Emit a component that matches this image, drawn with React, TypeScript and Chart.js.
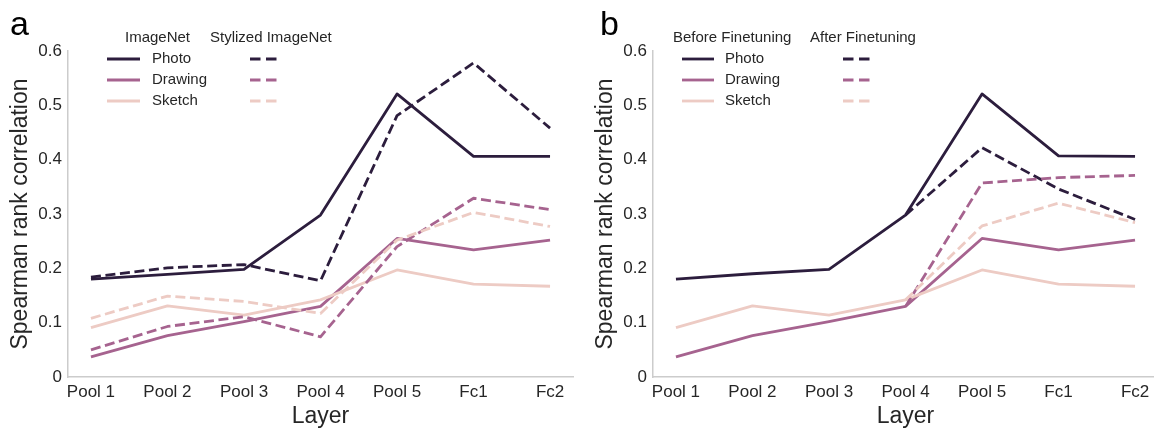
import React, { useEffect, useRef } from "react";
import { Chart, registerables } from "chart.js";

Chart.register(...registerables);

const LAYERS = ["Pool 1", "Pool 2", "Pool 3", "Pool 4", "Pool 5", "Fc1", "Fc2"];
const Y_TICKS = [0, 0.1, 0.2, 0.3, 0.4, 0.5, 0.6];

// Panel a: ImageNet (solid) vs Stylized ImageNet (dashed)
const A_PHOTO_IN = [0.180, 0.189, 0.198, 0.298, 0.521, 0.406, 0.406];
const A_DRAWING_IN = [0.037, 0.076, 0.102, 0.130, 0.255, 0.234, 0.252];
const A_SKETCH_IN = [0.091, 0.131, 0.114, 0.142, 0.197, 0.171, 0.167];
const A_PHOTO_SIN = [0.184, 0.201, 0.207, 0.177, 0.481, 0.578, 0.458];
const A_DRAWING_SIN = [0.050, 0.093, 0.111, 0.074, 0.240, 0.329, 0.308];
const A_SKETCH_SIN = [0.108, 0.149, 0.139, 0.117, 0.252, 0.303, 0.277];

// Panel b: Before (solid) vs After Finetuning (dashed)
const B_PHOTO_BEFORE = [0.180, 0.190, 0.198, 0.298, 0.521, 0.407, 0.406];
const B_DRAWING_BEFORE = [0.037, 0.076, 0.102, 0.130, 0.255, 0.234, 0.252];
const B_SKETCH_BEFORE = [0.091, 0.131, 0.114, 0.142, 0.197, 0.171, 0.167];
const B_PHOTO_AFTER = [null, null, null, 0.298, 0.422, 0.346, 0.290];
const B_DRAWING_AFTER = [null, null, null, 0.130, 0.357, 0.367, 0.371];
const B_SKETCH_AFTER = [null, null, null, 0.142, 0.278, 0.320, 0.284];

const SERIES_NAMES = ["Photo", "Drawing", "Sketch"];
const COLORS = ["#2c1d3d", "#a6638f", "#edcbc4"];

const FONT = "'Liberation Sans', Arial, sans-serif";
const TEXT = "#262626";
const DASH = [10, 4.6];
const LW = 2.8;

type PanelProps = {
  letter: string;
  headers: [string, string];
  solid: (number | null)[][];
  dashed: (number | null)[][];
  left: number;
  leg: { h1: number; h2: number; s0: number; s1: number; tx: number; d0: number; d1: number };
  letterX: number;
};

function Panel({ letter, headers, solid, dashed, left, leg, letterX }: PanelProps) {
  const ref = useRef<HTMLCanvasElement | null>(null);
  useEffect(() => {
    const canvas = ref.current!;
    const mk = (arr: (number | null)[]) => arr.map((v, i) => ({ x: i, y: v }));
    const datasets: any[] = [];
    for (let k = 0; k < 3; k++) {
      datasets.push({
        data: mk(solid[k]),
        borderColor: COLORS[k],
        borderWidth: LW,
        pointRadius: 0,
        borderJoinStyle: "round",
        fill: false,
        spanGaps: false,
        order: 2 - k + 3,
      });
    }
    for (let k = 0; k < 3; k++) {
      datasets.push({
        data: mk(dashed[k]),
        borderColor: COLORS[k],
        borderWidth: LW,
        borderDash: DASH,
        pointRadius: 0,
        borderJoinStyle: "round",
        fill: false,
        spanGaps: false,
        order: 2 - k,
      });
    }
    const legendPlugin = {
      id: "customLegend",
      afterDraw(chart: any) {
        const ctx = chart.ctx as CanvasRenderingContext2D;
        ctx.save();
        ctx.fillStyle = "#000";
        ctx.font = `34px ${FONT}`;
        ctx.textBaseline = "alphabetic";
        ctx.textAlign = "left";
        ctx.fillText(letter, letterX, 35);
        ctx.fillStyle = TEXT;
        ctx.font = `15px ${FONT}`;
        ctx.textBaseline = "middle";
        ctx.fillText(headers[0], leg.h1, 38);
        ctx.fillText(headers[1], leg.h2, 38);
        const rows = [59, 80, 101];
        for (let k = 0; k < 3; k++) {
          const y = rows[k];
          ctx.strokeStyle = COLORS[k];
          ctx.lineWidth = LW;
          ctx.lineCap = "butt";
          ctx.setLineDash([]);
          ctx.beginPath();
          ctx.moveTo(leg.s0, y);
          ctx.lineTo(leg.s1, y);
          ctx.stroke();
          ctx.setLineDash([10.5, 5.5]);
          ctx.beginPath();
          ctx.moveTo(leg.d0, y);
          ctx.lineTo(leg.d1, y);
          ctx.stroke();
          ctx.setLineDash([]);
          ctx.fillStyle = TEXT;
          ctx.fillText(SERIES_NAMES[k], leg.tx, y);
        }
        ctx.restore();
      },
    };
    const chart = new Chart(canvas, {
      type: "line",
      data: { datasets },
      options: {
        animation: false,
        responsive: false,
        events: [],
        layout: { padding: { left: 0, top: 51, right: 12, bottom: 0 } },
        plugins: { legend: { display: false }, tooltip: { enabled: false } },
        scales: {
          x: {
            type: "linear",
            min: -0.3,
            max: 6.3,
            afterBuildTicks: (scale: any) => {
              scale.ticks = LAYERS.map((_, i) => ({ value: i }));
            },
            afterFit: (scale: any) => {
              scale.height = 51;
            },
            grid: { display: false, drawTicks: false },
            border: { color: "#cccccc", width: 1.5 },
            ticks: {
              autoSkip: false,
              maxRotation: 0,
              padding: 5,
              color: TEXT,
              font: { family: FONT, size: 17 },
              callback: (v: any) => LAYERS[Math.round(Number(v))] ?? "",
            },
            title: {
              display: true,
              text: "Layer",
              color: TEXT,
              font: { family: FONT, size: 23 },
              padding: { top: 0, bottom: -2 },
            },
          },
          y: {
            type: "linear",
            min: 0,
            max: 0.6,
            afterBuildTicks: (scale: any) => {
              scale.ticks = Y_TICKS.map((v) => ({ value: v }));
            },
            afterFit: (scale: any) => {
              scale.width = 68;
            },
            grid: { display: false, drawTicks: false },
            border: { color: "#cccccc", width: 1.5 },
            ticks: {
              padding: 6,
              color: TEXT,
              font: { family: FONT, size: 17 },
              callback: (v: any) => (Number(v) === 0 ? "0" : Number(v).toFixed(1)),
            },
            title: {
              display: true,
              text: "Spearman rank correlation",
              color: TEXT,
              font: { family: FONT, size: 23 },
              padding: { top: 7, bottom: 0 },
            },
          },
        },
      },
      plugins: [legendPlugin],
    });
    return () => chart.destroy();
  }, []);
  return (
    <canvas
      ref={ref}
      width={585}
      height={428}
      style={{ position: "absolute", left, top: 0, width: 585, height: 428 }}
    />
  );
}

export default function App() {
  useEffect(() => {
    document.body.style.margin = "0";
    document.body.style.background = "#ffffff";
  }, []);
  return (
    <div
      style={{
        position: "relative",
        width: 1154,
        height: 428,
        overflow: "hidden",
        background: "#ffffff",
      }}
    >
      <Panel
        letter="a"
        letterX={10}
        headers={["ImageNet", "Stylized ImageNet"]}
        solid={[A_PHOTO_IN, A_DRAWING_IN, A_SKETCH_IN]}
        dashed={[A_PHOTO_SIN, A_DRAWING_SIN, A_SKETCH_SIN]}
        left={0}
        leg={{ h1: 125, h2: 210, s0: 107, s1: 140, tx: 152, d0: 250, d1: 277 }}
      />
      <Panel
        letter="b"
        letterX={15}
        headers={["Before Finetuning", "After Finetuning"]}
        solid={[B_PHOTO_BEFORE, B_DRAWING_BEFORE, B_SKETCH_BEFORE]}
        dashed={[B_PHOTO_AFTER, B_DRAWING_AFTER, B_SKETCH_AFTER]}
        left={585}
        leg={{ h1: 88, h2: 225, s0: 97, s1: 129, tx: 140, d0: 258, d1: 285 }}
      />
    </div>
  );
}
